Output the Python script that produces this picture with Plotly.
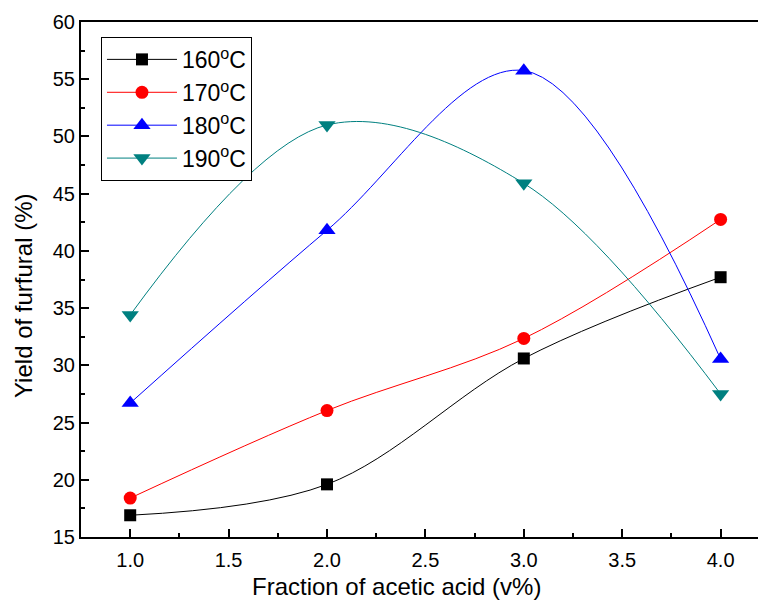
import plotly.graph_objects as go

# Acetic acid fraction (v%) and furfural yield (%) at each temperature
acid_fraction = [1.0, 2.0, 3.0, 4.0]
yield_160 = [16.9, 19.6, 30.6, 37.7]
yield_170 = [18.4, 26.05, 32.35, 42.75]
yield_180 = [26.7, 41.8, 55.75, 30.55]
yield_190 = [34.4, 51.0, 45.9, 27.5]

series_names = ["160<sup>o</sup>C", "170<sup>o</sup>C", "180<sup>o</sup>C", "190<sup>o</sup>C"]
series_values = [yield_160, yield_170, yield_180, yield_190]
colors = ["#000000", "#FF0000", "#0000FF", "#008080"]
symbols = ["square", "circle", "triangle-up", "triangle-down"]
marker_sizes = [12, 13, 15, 15]

x_ticks = [1.0, 1.5, 2.0, 2.5, 3.0, 3.5, 4.0]
y_ticks = [15, 20, 25, 30, 35, 40, 45, 50, 55, 60]

fig = go.Figure()
for i, (name, vals, col, sym, ms) in enumerate(zip(series_names, series_values, colors, symbols, marker_sizes)):
    fig.add_trace(go.Scatter(
        x=acid_fraction, y=vals, name=name, mode="lines+markers",
        legendgroup=f"g{i}",
        line=dict(color=col, width=1, shape="spline", smoothing=1.0),
        marker=dict(symbol=sym, size=ms, color=col),
    ))

font_family = "Liberation Sans, Arial, sans-serif"
fig.update_layout(
    width=758, height=602,
    margin=dict(l=81, r=0, t=22, b=65),
    paper_bgcolor="white", plot_bgcolor="white",
    font=dict(family=font_family, size=20, color="black"),
    showlegend=True,
    legend=dict(
        x=0.0295, y=0.971, xanchor="left", yanchor="top",
        bordercolor="black", borderwidth=1, bgcolor="white",
        font=dict(size=23), itemwidth=70, tracegroupgap=0,
    ),
    xaxis=dict(
        range=[0.75, 4.19], tickvals=x_ticks,
        ticktext=[f"{v:.1f}" for v in x_ticks],
        showline=True, linecolor="black", linewidth=2, mirror=True,
        ticks="inside", ticklen=8, tickwidth=2, tickcolor="black",
        minor=dict(ticks="inside", ticklen=4, tickwidth=2, dtick=0.25, tickcolor="black"),
        showgrid=False, zeroline=False,
        tickfont=dict(size=20), ticklabelstandoff=4,
    ),
    yaxis=dict(
        range=[15, 60], tickvals=y_ticks,
        showline=True, linecolor="black", linewidth=2,
        ticks="inside", ticklen=8, tickwidth=2, tickcolor="black",
        minor=dict(ticks="inside", ticklen=4, tickwidth=2, dtick=2.5, tickcolor="black"),
        showgrid=False, zeroline=False,
        tickfont=dict(size=20),
    ),
    annotations=[
        dict(text="Fraction of acetic acid (v%)", xref="paper", yref="paper",
             x=(396 - 81) / 677, y=-(586 - 537) / 515,
             xanchor="center", yanchor="middle", showarrow=False,
             font=dict(size=24)),
        dict(text="Yield of furfural (%)", xref="paper", yref="paper",
             x=-(81 - 23) / 677, y=1 - (296 - 22) / 515,
             xanchor="center", yanchor="middle", showarrow=False,
             textangle=-90, font=dict(size=24)),
    ],
)

fig.write_html("out.html")
